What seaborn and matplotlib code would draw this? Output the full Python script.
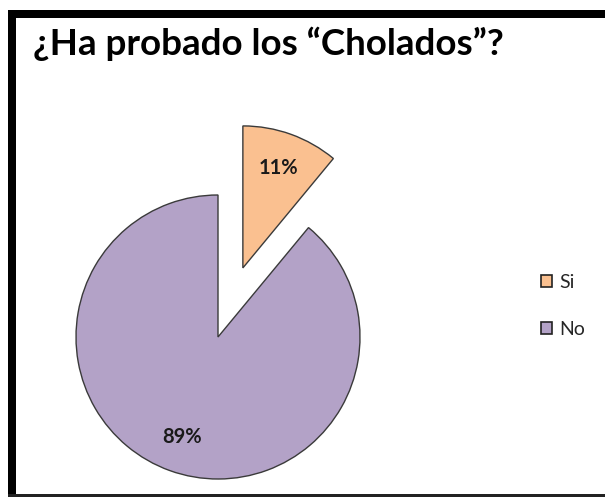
import matplotlib
matplotlib.use("Agg")
import matplotlib.pyplot as plt
from matplotlib.patches import Rectangle, Patch
import seaborn as sns

sns.set_theme(style="white")
plt.rcParams['font.family'] = ['Lato', 'DejaVu Sans']

categories = ["Si", "No"]
values = [11, 89]
colors = ["#FAC090", "#B3A2C7"]
title = "¿Ha probado los “Cholados”?"

W, H = 605, 497
fig = plt.figure(figsize=(W / 100, H / 100), dpi=100)
fig.patch.set_facecolor("white")

# pie axes: unit = 142 px, centre at (218, 337) px from top-left
unit = 142.0
cx, cy = 218.0, H - 337.0
x0, x1 = -1.1, 1.1
y0, y1 = -1.1, 1.7
ax = fig.add_axes([(cx + x0 * unit) / W, (cy + y0 * unit) / H,
                   (x1 - x0) * unit / W, (y1 - y0) * unit / H])
wedges, texts, autotexts = ax.pie(
    values, colors=colors, explode=[0.517, 0], startangle=90,
    counterclock=False, autopct="%1.0f%%", pctdistance=0.75,
    wedgeprops=dict(edgecolor="#3a3a3a", linewidth=1.0),
    textprops=dict(fontsize=14.5, fontweight="bold", color="#1a1a1a"))
ax.set_xlim(x0, x1)
ax.set_ylim(y0, y1)
ax.set_aspect("auto")
ax.axis("off")

fig.text(33 / W, 1 - 44 / H, title, fontsize=26.5, fontweight="bold",
         color="black", ha="left", va="center")

handles = [Patch(facecolor=c, edgecolor="#222222", linewidth=1.2) for c in colors]
fig.legend(handles, categories, loc="center left",
           bbox_to_anchor=(523 / W, 1 - 306 / H), frameon=False,
           fontsize=14, handlelength=0.6, handleheight=0.6,
           handletextpad=0.35, labelspacing=1.55)

# frame border
def bar(x, y, w, h, color="black"):
    fig.add_artist(Rectangle((x / W, 1 - (y + h) / H), w / W, h / H,
                             transform=fig.transFigure, facecolor=color,
                             edgecolor="none", zorder=10))

bar(8, 10, W - 8, 8)
bar(8, 10, 8, H - 10)
bar(8, 493.5, W - 8, 3.5, color="#222222")

fig.savefig("out.png", dpi=100)
